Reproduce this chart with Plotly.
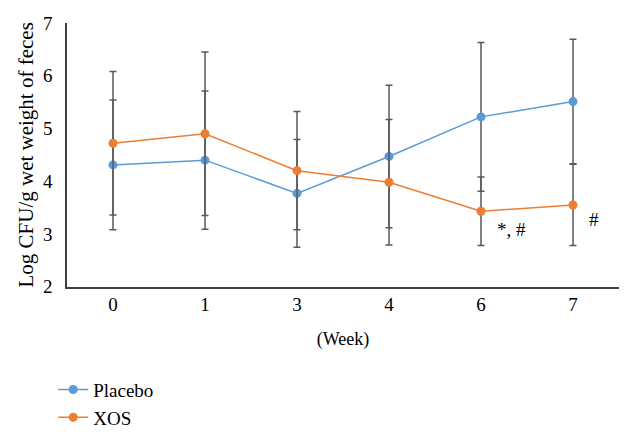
import plotly.graph_objects as go

weeks = ["0", "1", "3", "4", "6", "7"]
placebo = [4.31, 4.40, 3.77, 4.47, 5.22, 5.51]
placebo_err = [1.23, 1.31, 1.02, 1.35, 1.41, 1.18]
xos = [4.72, 4.90, 4.20, 3.98, 3.43, 3.55]
xos_err = [1.36, 1.55, 1.12, 1.19, 0.65, 0.77]
notes = [("6", "*, #"), ("7", "#")]

FONT = "Liberation Serif"
pos = list(range(len(weeks)))

fig = go.Figure()
for name, vals, errs, col in [("Placebo", placebo, placebo_err, "#5B9BD5"),
                              ("XOS", xos, xos_err, "#ED7D31")]:
    fig.add_trace(go.Scatter(
        x=pos, y=vals, name=name, mode="lines+markers",
        line=dict(color=col, width=1.5),
        marker=dict(color=col, size=9),
        error_y=dict(type="data", array=errs, visible=True,
                     color="#595959", thickness=1.5, width=3.5),
    ))

note_off = {"6": (0.33, -0.34), "7": (0.23, -0.27)}
for wk, txt in notes:
    i = weeks.index(wk)
    dx, dy = note_off[wk]
    fig.add_annotation(x=pos[i] + dx, y=xos[i] + dy, text=txt, showarrow=False,
                       font=dict(family=FONT, size=19, color="black"))

# page body has an 8px margin, so the figure is drawn 8px in from the top-left.
# The paper area spans down to the figure bottom; the y axis uses only its upper
# part, so the legend sits inside the paper and never pushes the margins.
fig.update_layout(
    width=624, height=429,
    margin=dict(l=59, r=13, t=15, b=0),
    plot_bgcolor="white", paper_bgcolor="white",
    font=dict(family=FONT, size=19, color="black"),
    showlegend=True,
    legend=dict(x=-0.025, y=0.076, xanchor="left", yanchor="middle",
                font=dict(size=19), tracegroupgap=0, itemwidth=30),
    xaxis=dict(tickmode="array", tickvals=pos, ticktext=weeks,
               range=[-0.5, len(weeks) - 0.5], showgrid=False,
               showline=True, linecolor="#404040", linewidth=1.5,
               ticks="", zeroline=False, automargin=False, ticklabelstandoff=0,
               title=dict(text="(Week)", standoff=18, font=dict(size=18))),
    yaxis=dict(range=[2, 7], dtick=1, showgrid=False, domain=[0.3599, 1],
               showline=True, linecolor="#404040", linewidth=1.5,
               ticks="", zeroline=False, ticklabelstandoff=9, automargin=False,
               title=dict(text="Log CFU/g wet weight of feces", standoff=4,
                          font=dict(size=21))),
)

fig.write_html("out.html")
